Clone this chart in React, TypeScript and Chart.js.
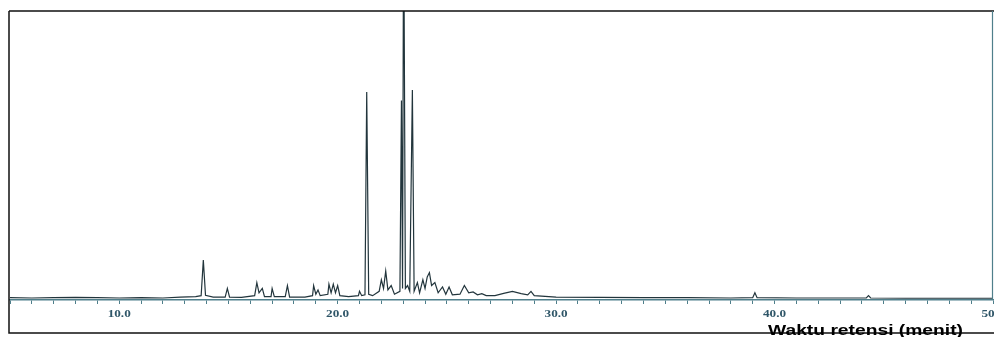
import React, { useEffect, useRef } from "react";
import { Chart, registerables } from "chart.js";

Chart.register(...registerables);

// Retention time (min) and detector response (% of plot height)
const retentionTimes: number[] = [
  5.0, 6.0, 7.0, 8.0, 9.0, 10.0, 11.0, 12.0, 12.8, 13.5, 13.75, 13.85, 13.95, 14.3,
  14.85, 14.95, 15.05, 15.6, 16.2, 16.3, 16.4, 16.55, 16.65, 16.95, 17.0, 17.1,
  17.6, 17.7, 17.8, 18.5, 18.85, 18.9, 19.0, 19.1, 19.2, 19.55, 19.6, 19.7, 19.8,
  19.9, 20.0, 20.1, 20.5, 20.95, 21.0, 21.1, 21.25, 21.33, 21.42, 21.6, 21.9, 22.0,
  22.1, 22.2, 22.3, 22.45, 22.6, 22.85, 22.92, 22.97, 23.02, 23.1, 23.2, 23.3,
  23.42, 23.5, 23.65, 23.75, 23.9, 24.0, 24.1, 24.2, 24.3, 24.45, 24.6, 24.8,
  24.95, 25.1, 25.25, 25.6, 25.8, 26.0, 26.2, 26.4, 26.6, 26.8, 27.2, 27.6, 28.0,
  28.4, 28.7, 28.85, 29.0, 30.0, 32.0, 34.0, 36.0, 38.0, 39.0, 39.1, 39.2, 41.0,
  43.0, 44.2, 44.3, 44.4, 46.0, 48.0, 50.0,
];
const responses: number[] = [
  0.8, 0.7, 0.8, 0.9, 0.8, 0.7, 0.8, 0.7, 1.0, 1.2, 1.5, 13.8, 1.6, 1.0,
  1.0, 4.0, 1.0, 0.9, 1.5, 6.0, 2.5, 4.0, 1.2, 1.2, 4.0, 1.2,
  1.2, 5.0, 1.0, 1.0, 1.5, 5.0, 2.0, 3.5, 1.5, 2.0, 5.5, 2.5, 5.5,
  2.5, 5.0, 1.5, 1.2, 1.5, 3.0, 1.5, 1.8, 72, 2.0, 1.5, 3.0, 7.0,
  4.0, 10.0, 3.5, 5.0, 2.0, 3.0, 69, 4, 140, 4.0, 5.0, 3.0,
  72.7, 3.0, 6.0, 2.5, 7.0, 4.0, 8.0, 9.5, 5.0, 6.0, 2.5, 4.5,
  2.0, 4.5, 1.8, 2.0, 5.0, 2.5, 2.8, 1.8, 2.2, 1.5, 1.5, 2.3, 3.0,
  2.2, 1.8, 3.0, 1.5, 1.0, 0.9, 0.8, 0.8, 0.7, 0.8, 2.5, 0.8, 0.7,
  0.7, 0.7, 1.5, 0.7, 0.6, 0.6, 0.6,
];

const X_MIN = 5;
const X_MAX = 50;
const tickLabelValues: number[] = [10, 20, 30, 40, 50];
const axisTitle = "Waktu retensi (menit)";

const AXIS_COLOR = "#4f7f8b";

const decorPlugin = {
  id: "decor",
  afterDraw(chart: any) {
    const ctx = chart.ctx as CanvasRenderingContext2D;
    const x = chart.scales.x;
    const area = chart.chartArea;
    ctx.save();
    // tick labels
    ctx.fillStyle = "#2f5668";
    ctx.font = "bold 11px 'Liberation Serif', serif";
    ctx.textAlign = "center";
    ctx.textBaseline = "middle";
    for (const v of tickLabelValues) {
      const px = x.getPixelForValue(v);
      ctx.save();
      ctx.translate(px, 314);
      ctx.scale(1.2, 1);
      ctx.fillText(v.toFixed(1), 0, 0);
      ctx.restore();
    }
    // frame
    ctx.strokeStyle = "#111";
    ctx.lineWidth = 1.5;
    ctx.beginPath();
    ctx.moveTo(9, area.top);
    ctx.lineTo(994, area.top);
    ctx.moveTo(9, area.top);
    ctx.lineTo(9, 333);
    ctx.lineTo(994, 333);
    ctx.stroke();
    ctx.strokeStyle = AXIS_COLOR;
    ctx.lineWidth = 1.2;
    ctx.beginPath();
    ctx.moveTo(area.right - 0.5, area.top);
    ctx.lineTo(area.right - 0.5, area.bottom);
    ctx.stroke();
    // axis title
    ctx.fillStyle = "#000";
    ctx.font = "bold 15px 'Liberation Sans', Arial, sans-serif";
    ctx.textAlign = "left";
    ctx.textBaseline = "alphabetic";
    const w = ctx.measureText(axisTitle).width;
    ctx.translate(768, 335);
    ctx.scale(195 / w, 1);
    ctx.fillText(axisTitle, 0, 0);
    ctx.restore();
  },
};

export default function App() {
  const ref = useRef<HTMLCanvasElement | null>(null);
  useEffect(() => {
    if (!ref.current) return;
    const points = retentionTimes.map((t, i) => ({ x: t, y: responses[i] }));
    const chart = new Chart(ref.current, {
      type: "line",
      data: {
        datasets: [
          {
            data: points,
            borderColor: "#22353c",
            borderWidth: 1.2,
            pointRadius: 0,
            tension: 0,
            fill: false,
          },
        ],
      },
      options: {
        animation: false,
        responsive: false,
        maintainAspectRatio: false,
        layout: { padding: { left: 10, top: 11, right: 1, bottom: 0 } },
        plugins: { legend: { display: false }, tooltip: { enabled: false } },
        scales: {
          x: {
            type: "linear",
            min: X_MIN,
            max: X_MAX,
            afterFit: (scale: any) => {
              scale.height = 37;
            },
            ticks: { display: false, stepSize: 1, autoSkip: false },
            grid: {
              drawOnChartArea: false,
              drawTicks: true,
              tickLength: 4,
              color: AXIS_COLOR,
              lineWidth: 1,
            },
            border: { display: true, color: AXIS_COLOR, width: 1.5 },
          },
          y: {
            display: false,
            min: 0,
            max: 100,
          },
        },
      },
      plugins: [decorPlugin],
    });
    return () => chart.destroy();
  }, []);
  return (
    <div style={{ position: "absolute", left: 0, top: 0, width: 994, height: 337, background: "#fff" }}>
      <canvas ref={ref} width={994} height={337} style={{ display: "block" }} />
    </div>
  );
}
